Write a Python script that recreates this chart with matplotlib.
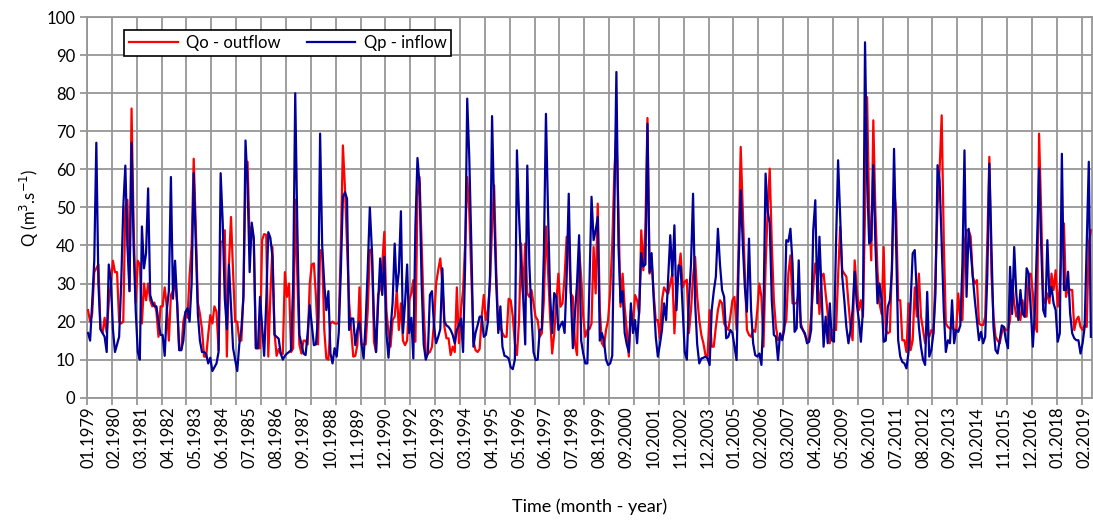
import matplotlib.pyplot as plt
import numpy as np

# monthly flows, one row per year, 01.1979 - 05.2019
qo = [
    23, 20, 22, 33, 34, 35, 18, 17, 21, 17, 25, 30,
    36, 33, 33, 20, 19.5, 20, 50, 52, 28, 76, 45, 25,
    36, 35, 19.5, 30, 25.6, 30, 25.6, 24, 25, 22.6, 16, 24,
    24, 29, 24, 15, 27, 28, 30.5, 25, 12.5, 12.5, 20, 22.5,
    21, 32, 40, 62.8, 45, 25, 22, 18, 10.8, 10.8, 16.5, 21.7,
    19.5, 24, 22.6, 12.5, 41, 41, 44, 10.8, 35, 47.5, 33, 20,
    20, 15, 15, 27, 58, 62, 41, 45, 41, 13, 13, 13,
    41.4, 43, 42.8, 10.8, 27, 39.6, 17, 11, 12.8, 11.5, 11.5, 33,
    26.5, 30, 12, 13, 52, 32, 14, 11.6, 15, 15, 14, 30,
    35, 35.3, 26.5, 14, 38.8, 38.3, 18, 10.3, 10, 19.5, 20, 19.5,
    19.5, 19.5, 40, 66.3, 55, 40, 25, 18, 10.8, 11, 14, 29,
    14, 14, 14, 23, 38.8, 39, 14.7, 12, 27, 28.7, 35, 43.6,
    23, 17, 13.4, 20.4, 21.3, 28.3, 17.8, 24.8, 15, 13.8, 15, 25.6,
    27.4, 30.9, 14.7, 53, 58, 40.5, 23, 11.6, 11.6, 12, 13.4, 20,
    30, 33.5, 36.6, 30, 18.6, 15.6, 15.6, 11.2, 13.4, 12, 29, 14.3,
    23, 28.3, 40.5, 58, 49, 32, 15, 12.5, 12, 12.8, 21.3, 27,
    20.4, 23, 30, 45, 55.8, 33.5, 17.8, 18.6, 17, 16, 16, 26,
    25.6, 21.3, 14.3, 11.2, 20, 40.5, 26.5, 40.5, 27.4, 26.5, 28.3, 24.8,
    21.3, 20.4, 16, 16.9, 25.6, 45, 33.5, 21.3, 11.6, 16.9, 24.8, 32.6,
    23.9, 24.8, 31.8, 42.3, 40.5, 27.4, 26.5, 14.3, 11.2, 38.8, 31.8, 21.3,
    16, 17.8, 18, 19.5, 39.6, 27.4, 51, 23, 14.3, 13.4, 17.8, 20.4,
    27.8, 40.5, 59, 70, 49, 23.9, 32.6, 23.9, 17.8, 10.8, 23, 18.6,
    27, 25.6, 22, 44, 33.5, 45, 73.5, 32.6, 36.1, 27.4, 20.4, 20.4,
    15.6, 25.6, 29, 28, 27.4, 30, 32.6, 16.9, 28.3, 33, 37.9, 29,
    30.5, 31, 17, 23, 31.8, 37, 26.5, 20.4, 16.5, 14.3, 11.2, 10.8,
    23, 13.4, 13.4, 18.6, 23, 25.6, 24.8, 19.5, 18.6, 17.8, 21.3, 25.6,
    26.5, 17.8, 40.5, 65.9, 49, 32.6, 17.8, 16.5, 16, 17.8, 17.3, 23,
    30, 26.5, 13.4, 34.4, 49, 60.2, 40.5, 25.6, 18.6, 15.1, 16, 15.6,
    18.6, 20.4, 32.6, 37.4, 24.8, 24.8, 24.8, 27.4, 19.5, 17.8, 16.5, 15.1,
    15.6, 21.3, 29, 35.3, 31.8, 22, 31.8, 32.6, 27.4, 22, 14.3, 17.8,
    17.8, 17.8, 31.8, 44.9, 33.5, 32.6, 31.8, 24.8, 18.6, 15.1, 36.1, 29,
    23, 25.6, 21.3, 49, 79, 49, 36.1, 72.9, 49, 33.5, 24.8, 22,
    39.6, 17.8, 16.9, 17.3, 35.3, 55, 49, 25.6, 25.6, 15.1, 15.1, 12,
    24.8, 12.5, 15, 29, 21.3, 32.6, 21.3, 17.8, 14.3, 17.8, 16, 17.8,
    16.9, 32.6, 50, 60, 74.2, 41.4, 19.5, 18.6, 18.2, 18.6, 17.8, 17.8,
    27.4, 20.4, 20.4, 40.5, 44, 44, 42.3, 31.8, 30, 30.9, 19.5, 19.1,
    19.1, 21.3, 40.5, 63.3, 32.6, 21.3, 16, 15, 14.3, 17, 18.6, 17.8,
    17.8, 20.4, 30.9, 24.8, 21.3, 23, 20.4, 25.6, 21.3, 21.3, 31.8, 32.6,
    27.4, 19.5, 17.3, 69.4, 49, 26.5, 24.8, 27.4, 24.8, 32.6, 28.3, 33.5,
    23.9, 29.1, 40.5, 45.8, 26.5, 29.1, 28.3, 28.3, 17.8, 20.4, 21.3, 18.6,
    17.8, 19.1, 18.6, 40.5, 44,
]

qp = [
    17, 15, 25, 36, 67, 30, 18, 17, 16, 12, 35, 31,
    18, 12, 14, 16, 30, 50, 61, 40, 28, 67, 40, 23,
    12, 10, 45, 34, 38, 55, 27, 25, 24, 24, 20, 16.5,
    16.5, 11, 23, 28, 58, 26, 36, 25, 12.5, 12.5, 15, 22.5,
    23.5, 20, 30, 59, 40, 22, 15, 12, 12, 11.5, 9, 10.5,
    7, 8, 9, 12, 59, 46, 26, 18, 35, 24, 13, 10,
    7, 14, 18, 26.5, 67.6, 56, 33, 46, 42, 13, 13, 26.5,
    18.6, 11, 25, 43.5, 42, 37, 16.5, 16, 15.5, 11.6, 10, 11,
    11.6, 12, 12.5, 30, 80, 45, 16.5, 14, 11.6, 11.2, 17, 24.3,
    19, 13.8, 14, 21, 69.4, 40, 30, 23, 28, 11.6, 9, 13,
    10.8, 17, 33, 52.8, 54, 52.3, 17.8, 20.8, 20.8, 13.8, 17.8, 20,
    14, 10.3, 20, 34, 50, 38.8, 21, 12, 25, 36.6, 27, 37,
    17, 10.5, 18, 25, 40.5, 28, 33, 49, 17, 25, 35, 17,
    21, 10.3, 45, 63, 56, 30, 14, 10, 11.6, 27, 28, 18.6,
    14.3, 16, 18, 34, 20, 19, 18.6, 17.8, 16.5, 14.3, 17.8, 19,
    20.8, 12, 35, 78.6, 63, 40, 13.4, 17, 19, 21.3, 21.3, 16,
    16.5, 20, 32, 74, 49, 30, 17, 24, 13.4, 11, 10.8, 10.3,
    8, 7.5, 10, 65, 48, 35, 26.5, 14, 61, 35, 22, 12,
    9.9, 10, 17.8, 18, 38, 74.6, 49, 27, 17, 27.5, 26.5, 17.8,
    19, 20, 17, 32, 53.6, 27.4, 13, 22, 30, 42.7, 15, 11.6,
    9, 9, 30, 52.8, 41.4, 44, 47.5, 15, 17, 15, 10, 8.6,
    9, 11, 49, 85.6, 40, 25, 28, 17, 14, 12, 24.8, 17,
    20.4, 14.3, 23, 38, 34.5, 35, 72, 33, 38, 26, 16, 10.8,
    14, 17.8, 24.8, 20.4, 31.8, 42.7, 32, 45.3, 23, 34.8, 34.4, 23,
    12, 10, 25.6, 35, 53.6, 25, 14, 9, 10.3, 10.5, 10.8, 10.3,
    8.6, 23, 28, 31.8, 44.4, 35, 28.3, 26.5, 15.6, 16, 17.8, 17,
    13.4, 9.9, 35, 54.5, 40.5, 29, 22.6, 41.8, 23, 14.3, 11.2, 10.8,
    11.6, 8.6, 23, 58.9, 49, 45.8, 25.6, 16.5, 16, 9.9, 16.9, 15.1,
    17.8, 41.4, 41, 44.4, 35.3, 17.3, 18.2, 36.1, 18.6, 17.8, 16.9, 14.3,
    14.7, 17.8, 44, 51.9, 24.8, 42.3, 28.3, 13.4, 21.3, 14.3, 24.8, 15.1,
    14.7, 40.5, 62.4, 47.7, 31.8, 25.6, 18.6, 14.3, 17.8, 23, 33.1, 24.8,
    20.4, 14.7, 23, 93.4, 58, 40.5, 41.4, 61.1, 40.5, 24.8, 30, 25.6,
    14.7, 15, 23.9, 25.6, 33.5, 65.4, 40.5, 15.1, 10.8, 9.4, 9, 7.7,
    12, 25, 37.9, 38.8, 27.4, 18.6, 13.4, 10, 8.6, 27.8, 10.8, 12.5,
    16.9, 27.4, 61.1, 57.1, 40.5, 23, 12, 15.1, 14.3, 25.6, 14.3, 17.8,
    17.3, 19, 35, 65, 26.5, 44.4, 38.8, 31.8, 25.6, 20.4, 15.1, 17.3,
    14.3, 16, 31.8, 61.5, 40.5, 18.6, 12.5, 11.6, 15.1, 19, 18.6, 15.1,
    13, 34.4, 22, 39.6, 27.4, 20.4, 28.3, 22.1, 21.3, 34, 32.6, 23,
    13.4, 23, 40.5, 60.2, 40.5, 23, 21.3, 41.4, 26.5, 29.1, 24.8, 23,
    14.7, 16.9, 64.1, 28.3, 28.3, 33.1, 22.1, 16.9, 15.6, 15.1, 15.1, 11.6,
    14.3, 18.6, 40.5, 62, 16,
]

n = len(qp)
months = [f"{i % 12 + 1:02d}.{1979 + i // 12}" for i in range(n)]
label_pos = list(range(0, n, 13))
labels = [months[i] for i in label_pos]

plt.rcParams['font.family'] = ['Lato', 'DejaVu Sans']
fs = 12
grid_c = '#969696'

fig = plt.figure(figsize=(10.93, 5.21), dpi=100)
ax = fig.add_axes([0.0796, 0.2367, 0.9194, 0.7303])

x = np.arange(n)
ax.plot(x, qo, color='#ff0000', linewidth=1.6, label='Qo - outflow', zorder=3)
ax.plot(x, qp, color='#000099', linewidth=1.6, label='Qp - inflow', zorder=4)

ax.set_xlim(-0.5, n - 0.5)
ax.set_ylim(0, 100)
ax.set_yticks(np.arange(0, 101, 10))

# gridlines every 12 months, labels every 13 months
ax.set_xticks(np.arange(-0.5, n, 12))
ax.set_xticklabels([])
ax.set_xticks(label_pos, minor=True)
ax.set_xticklabels(labels, minor=True, rotation=90, fontsize=fs)
ax.tick_params(axis='x', which='minor', length=0, pad=6)
ax.tick_params(axis='x', which='major', length=5, color=grid_c, width=1.3)
ax.tick_params(axis='y', length=5, color=grid_c, width=1.3, labelsize=fs)

ax.grid(True, which='major', color=grid_c, linewidth=1.3)
ax.set_axisbelow(True)
for s in ax.spines.values():
    s.set_color(grid_c)
    s.set_linewidth(1.3)

ax.set_ylabel('Q (m$^3$.s$^{-1}$)', fontsize=fs)
ax.set_xlabel('Time (month - year)', fontsize=fs + 1, labelpad=22)

leg = ax.legend(loc='upper left', bbox_to_anchor=(0.037, 0.966), ncol=2,
                fontsize=fs, frameon=True, fancybox=False, framealpha=1,
                edgecolor='black', handlelength=2.9, columnspacing=1.6,
                handletextpad=0.5, borderpad=0.3, borderaxespad=0)
leg.get_frame().set_linewidth(1.2)

plt.savefig('out.png', dpi=100)
